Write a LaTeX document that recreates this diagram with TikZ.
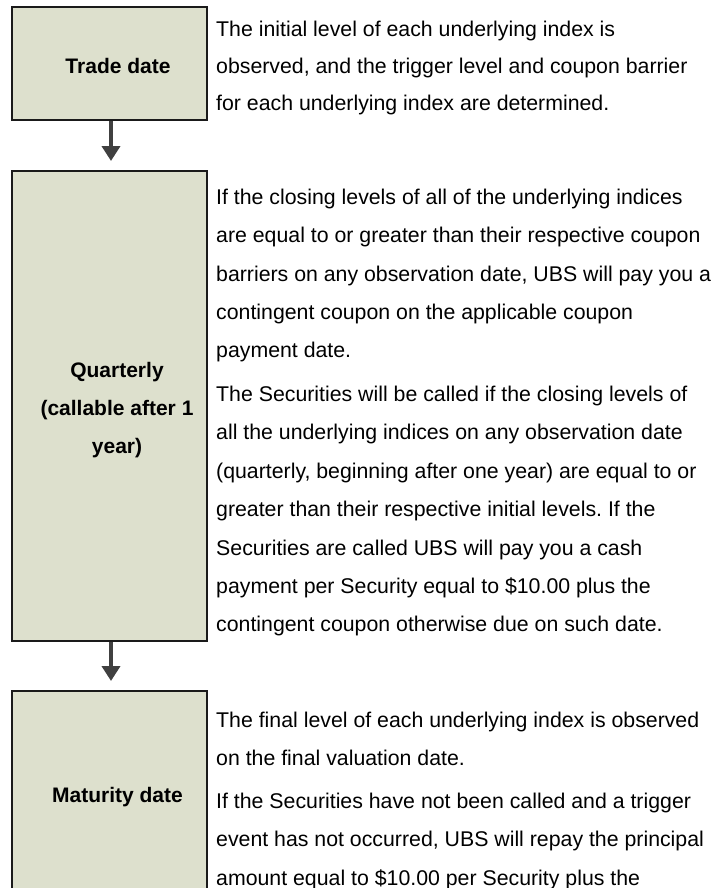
\documentclass[tikz,border=0pt]{standalone}
\usepackage{fontspec}
\setmainfont{Liberation Sans}
\usetikzlibrary{arrows.meta}
\definecolor{boxfill}{RGB}{221,224,205}
\definecolor{boxline}{RGB}{26,26,26}
\definecolor{arrowgray}{RGB}{64,64,64}
\frenchspacing
\newcommand{\txtblock}[2]{\parbox[t]{520pt}{\fontsize{21.3}{#1}\selectfont\frenchspacing\raggedright #2}}
\tikzset{
  stagebox/.style={draw=boxline, line width=2pt, fill=boxfill, inner sep=0pt},
  stagelabel/.style={inner sep=0pt, align=center, font=\fontsize{21}{38.3}\selectfont\bfseries},
  desc/.style={inner sep=0pt, anchor=base west, text=black},
  flowarrow/.style={draw=arrowgray, line width=4pt, -{Triangle[width=18pt,length=15pt]}, shorten >=9pt}
}
\begin{document}
\begin{tikzpicture}[x=1pt,y=-1pt]
\useasboundingbox (0,0) rectangle (727,888);
\clip (0,0) rectangle (727,888);
% boxes
\node[stagebox, minimum width=195pt, minimum height=113pt] (b1) at (109.5,63.5) {};
\node[stagebox, minimum width=195pt, minimum height=470pt] (b2) at (109.5,406) {};
\node[stagebox, minimum width=195pt, minimum height=214pt] (b3) at (109.5,798) {};
% labels
\node[stagelabel, anchor=base] (l1) at (118,74) {Trade date};
\node[stagelabel, anchor=base] (l2) at (117,377) {\parbox[t]{190pt}{\centering\fontsize{21}{38.3}\selectfont\bfseries Quarterly\\(callable after 1\\year)}};
\node[stagelabel, anchor=base] (l3) at (117.5,802) {Maturity date};
% arrows
\draw[flowarrow] ([xshift=1.5pt]b1.south) -- ([xshift=1.5pt]b2.north);
\draw[flowarrow] ([xshift=1.5pt]b2.south) -- ([xshift=1.5pt]b3.north);
% descriptions
\node[desc] (d1) at (216,37) {\txtblock{36.6}{The initial level of each underlying index is\\observed, and the trigger level and coupon barrier\\for each underlying index are determined.}};
\node[desc] (d2) at (216,204.5) {\txtblock{38.3}{If the closing levels of all of the underlying indices\\are equal to or greater than their respective coupon\\barriers on any observation date, UBS will pay you a\\contingent coupon on the applicable coupon\\payment date.}};
\node[desc] (d3) at (216,401.5) {\txtblock{38.4}{The Securities will be called if the closing levels of\\all the underlying indices on any observation date\\(quarterly, beginning after one year) are equal to or\\greater than their respective initial levels. If the\\Securities are called UBS will pay you a cash\\payment per Security equal to \$10.00 plus the\\contingent coupon otherwise due on such date.}};
\node[desc] (d4) at (216,727) {\txtblock{38.3}{The final level of each underlying index is observed\\on the final valuation date.}};
\node[desc] (d5) at (216,808) {\txtblock{38.5}{If the Securities have not been called and a trigger\\event has not occurred, UBS will repay the principal\\amount equal to \$10.00 per Security plus the}};
\end{tikzpicture}
\end{document}
